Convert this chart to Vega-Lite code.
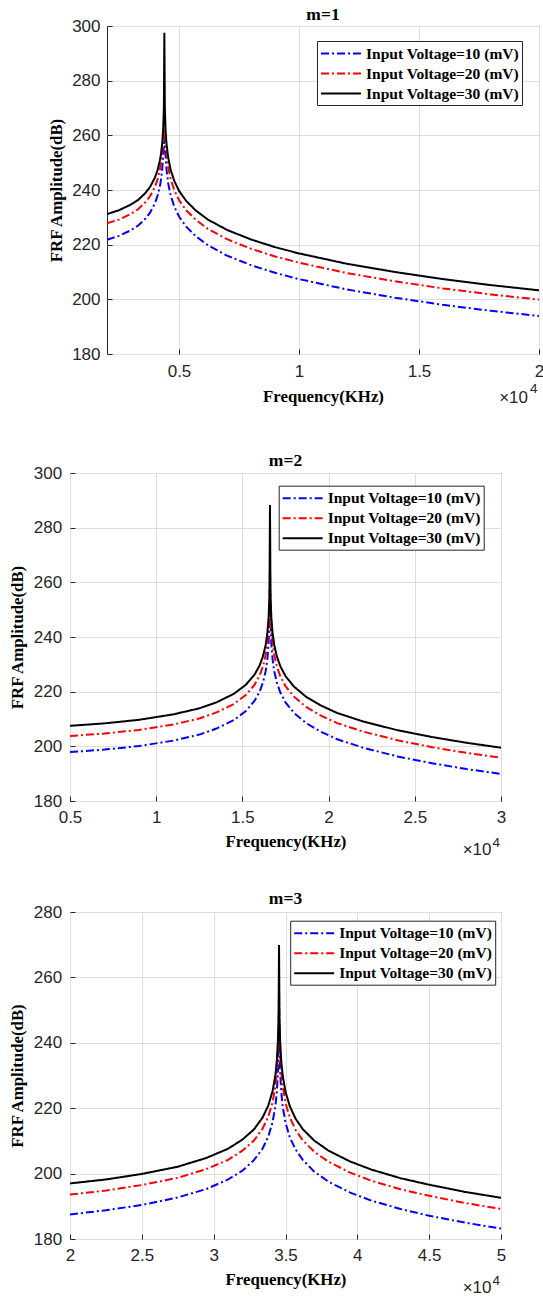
{
  "$schema": "https://vega.github.io/schema/vega-lite/v6.json",
  "background": "white",
  "padding": {"left": 9, "top": 5, "right": 0, "bottom": 0},
  "config": {
    "view": {"stroke": "#262626", "strokeWidth": 1},
    "font": "Liberation Sans",
    "axis": {
      "domain": false,
      "grid": true, "gridColor": "#dfdfdf", "gridWidth": 1,
      "ticks": true, "tickSize": -5, "tickColor": "#262626", "tickWidth": 1,
      "labelFont": "Liberation Sans", "labelFontSize": 17, "labelColor": "#262626",
      "labelFlush": false, "labelOverlap": false,
      "titleFont": "Liberation Serif", "titleFontWeight": "bold", "titleFontSize": 16.8, "titleColor": "#000000"
    },
    "legend": {
      "strokeColor": "#262626", "fillColor": "white", "padding": 3,
      "symbolType": "M-1,0H3.7", "symbolSize": 289, "symbolStrokeWidth": 2, "symbolFillColor": "transparent",
      "labelFont": "Liberation Serif", "labelFontWeight": "bold", "labelFontSize": 15.5,
      "labelColor": "#000000", "labelLimit": 400, "labelOffset": 27, "rowPadding": 2
    },
    "title": {"font": "Liberation Serif", "fontWeight": "bold", "fontSize": 17.5, "color": "#000000", "anchor": "middle", "frame": "group", "baseline": "alphabetic"}
  },
  "datasets": {
    "p1": [
      {"f":0.2,"v10":221.8,"v20":227.8,"v30":231.2},
      {"f":0.25,"v10":223.2,"v20":229.2,"v30":232.6},
      {"f":0.3,"v10":225.3,"v20":231.3,"v30":234.7},
      {"f":0.33,"v10":227.0,"v20":233.0,"v30":236.4},
      {"f":0.36,"v10":229.5,"v20":235.5,"v30":238.9},
      {"f":0.38,"v10":231.8,"v20":237.8,"v30":241.2},
      {"f":0.4,"v10":235.2,"v20":241.2,"v30":244.6},
      {"f":0.41,"v10":237.7,"v20":243.7,"v30":247.1},
      {"f":0.42,"v10":241.2,"v20":247.2,"v30":250.6},
      {"f":0.425,"v10":243.8,"v20":249.8,"v30":253.2},
      {"f":0.43,"v10":247.6,"v20":253.6,"v30":257.0},
      {"f":0.434,"v10":252.7,"v20":258.7,"v30":262.1},
      {"f":0.437,"v10":256.5,"v20":261.0,"v30":270.0},
      {"f":0.439,"v10":259.5,"v20":262.5,"v30":297.5},
      {"f":0.441,"v10":256.5,"v20":261.0,"v30":270.0},
      {"f":0.444,"v10":252.6,"v20":258.6,"v30":262.0},
      {"f":0.448,"v10":247.5,"v20":253.5,"v30":256.9},
      {"f":0.455,"v10":242.4,"v20":248.4,"v30":251.8},
      {"f":0.465,"v10":238.1,"v20":244.1,"v30":247.5},
      {"f":0.48,"v10":234.0,"v20":240.0,"v30":243.4},
      {"f":0.5,"v10":230.3,"v20":236.3,"v30":239.7},
      {"f":0.53,"v10":226.6,"v20":232.6,"v30":236.0},
      {"f":0.57,"v10":223.1,"v20":229.1,"v30":232.5},
      {"f":0.62,"v10":219.8,"v20":225.8,"v30":229.2},
      {"f":0.7,"v10":216.0,"v20":222.0,"v30":225.4},
      {"f":0.8,"v10":212.5,"v20":218.5,"v30":221.9},
      {"f":0.9,"v10":209.7,"v20":215.7,"v30":219.1},
      {"f":1.0,"v10":207.4,"v20":213.4,"v30":216.8},
      {"f":1.2,"v10":203.6,"v20":209.6,"v30":213.0},
      {"f":1.4,"v10":200.6,"v20":206.6,"v30":210.0},
      {"f":1.6,"v10":198.0,"v20":204.0,"v30":207.4},
      {"f":1.8,"v10":195.8,"v20":201.8,"v30":205.2},
      {"f":2.0,"v10":193.9,"v20":199.9,"v30":203.3}
    ],
    "p2": [
      {"f":0.5,"v10":197.9,"v20":203.8,"v30":207.5},
      {"f":0.7,"v10":198.8,"v20":204.7,"v30":208.4},
      {"f":0.9,"v10":200.1,"v20":206.0,"v30":209.7},
      {"f":1.1,"v10":202.1,"v20":208.0,"v30":211.7},
      {"f":1.25,"v10":204.3,"v20":210.2,"v30":213.9},
      {"f":1.35,"v10":206.5,"v20":212.4,"v30":216.1},
      {"f":1.45,"v10":209.6,"v20":215.5,"v30":219.2},
      {"f":1.52,"v10":212.9,"v20":218.8,"v30":222.5},
      {"f":1.57,"v10":216.6,"v20":222.5,"v30":226.2},
      {"f":1.6,"v10":220.0,"v20":225.9,"v30":229.6},
      {"f":1.62,"v10":223.5,"v20":229.4,"v30":233.1},
      {"f":1.635,"v10":227.5,"v20":233.4,"v30":237.1},
      {"f":1.645,"v10":232.0,"v20":237.9,"v30":241.6},
      {"f":1.652,"v10":237.4,"v20":243.3,"v30":247.0},
      {"f":1.657,"v10":245.9,"v20":251.8,"v30":255.5},
      {"f":1.66,"v10":250.0,"v20":265.0,"v30":288.3},
      {"f":1.663,"v10":245.9,"v20":251.8,"v30":255.5},
      {"f":1.668,"v10":237.3,"v20":243.2,"v30":246.9},
      {"f":1.675,"v10":231.9,"v20":237.8,"v30":241.5},
      {"f":1.685,"v10":227.4,"v20":233.3,"v30":237.0},
      {"f":1.7,"v10":223.3,"v20":229.2,"v30":232.9},
      {"f":1.72,"v10":219.7,"v20":225.6,"v30":229.3},
      {"f":1.75,"v10":216.1,"v20":222.0,"v30":225.7},
      {"f":1.8,"v10":212.2,"v20":218.1,"v30":221.8},
      {"f":1.87,"v10":208.5,"v20":214.4,"v30":218.1},
      {"f":1.95,"v10":205.5,"v20":211.4,"v30":215.1},
      {"f":2.05,"v10":202.6,"v20":208.5,"v30":212.2},
      {"f":2.2,"v10":199.5,"v20":205.4,"v30":209.1},
      {"f":2.4,"v10":196.3,"v20":202.2,"v30":205.9},
      {"f":2.6,"v10":193.8,"v20":199.7,"v30":203.4},
      {"f":2.8,"v10":191.7,"v20":197.6,"v30":201.3},
      {"f":3.0,"v10":189.9,"v20":195.8,"v30":199.5}
    ],
    "p3": [
      {"f":2.0,"v10":187.5,"v20":193.6,"v30":197.0},
      {"f":2.25,"v10":188.8,"v20":194.8,"v30":198.2},
      {"f":2.5,"v10":190.4,"v20":196.5,"v30":199.9},
      {"f":2.75,"v10":192.7,"v20":198.7,"v30":202.1},
      {"f":2.95,"v10":195.3,"v20":201.4,"v30":204.8},
      {"f":3.1,"v10":198.2,"v20":204.2,"v30":207.6},
      {"f":3.2,"v10":200.9,"v20":207.0,"v30":210.4},
      {"f":3.28,"v10":204.1,"v20":210.1,"v30":213.5},
      {"f":3.34,"v10":207.6,"v20":213.7,"v30":217.1},
      {"f":3.38,"v10":211.3,"v20":217.4,"v30":220.8},
      {"f":3.41,"v10":215.7,"v20":221.8,"v30":225.2},
      {"f":3.43,"v10":220.8,"v20":226.8,"v30":230.2},
      {"f":3.44,"v10":225.2,"v20":231.3,"v30":234.7},
      {"f":3.448,"v10":231.8,"v20":237.9,"v30":241.3},
      {"f":3.452,"v10":237.5,"v20":245.2,"v30":248.6},
      {"f":3.455,"v10":240.0,"v20":256.0,"v30":269.9},
      {"f":3.458,"v10":237.5,"v20":245.2,"v30":248.6},
      {"f":3.462,"v10":231.8,"v20":237.9,"v30":241.3},
      {"f":3.47,"v10":225.2,"v20":231.2,"v30":234.6},
      {"f":3.48,"v10":220.7,"v20":226.8,"v30":230.2},
      {"f":3.5,"v10":215.6,"v20":221.6,"v30":225.0},
      {"f":3.53,"v10":211.1,"v20":217.2,"v30":220.6},
      {"f":3.57,"v10":207.4,"v20":213.4,"v30":216.8},
      {"f":3.62,"v10":204.2,"v20":210.2,"v30":213.6},
      {"f":3.7,"v10":200.6,"v20":206.7,"v30":210.1},
      {"f":3.8,"v10":197.5,"v20":203.6,"v30":207.0},
      {"f":3.95,"v10":194.2,"v20":200.3,"v30":203.7},
      {"f":4.1,"v10":191.7,"v20":197.8,"v30":201.2},
      {"f":4.3,"v10":189.2,"v20":195.2,"v30":198.6},
      {"f":4.5,"v10":187.1,"v20":193.2,"v30":196.6},
      {"f":4.75,"v10":185.0,"v20":191.0,"v30":194.4},
      {"f":5.0,"v10":183.2,"v20":189.2,"v30":192.6}
    ]
  },
  "spacing": 44,
  "resolve": {"scale": {"color": "independent", "strokeDash": "independent"}},
  "vconcat": [
    {
      "spacing": -23,
      "resolve": {"scale": {"color": "independent", "strokeDash": "independent"}},
      "hconcat": [
        {"width": 1, "height": 1, "view": {"stroke": null}, "data": {"values": [{}]}, "mark": {"type": "point", "opacity": 0, "size": 1}},
        {
          "width": 432, "height": 328,
          "title": {"text": "m=1", "offset": -6},
          "data": {"name": "p1"},
          "transform": [{"fold": ["v10", "v20", "v30"], "as": ["series", "a"]}],
          "layer": [
            {
              "mark": {"type": "line", "strokeWidth": 2, "clip": true},
              "encoding": {
                "x": {"field": "f", "type": "quantitative", "scale": {"domain": [0.2, 2], "nice": false, "zero": false},
                      "axis": {"values": [0.5, 1, 1.5, 2], "format": "~g", "title": "Frequency(KHz)", "labelPadding": 14.2, "titlePadding": 9.5}},
                "y": {"field": "a", "type": "quantitative", "scale": {"domain": [180, 300], "nice": false, "zero": false},
                      "axis": {"values": [180, 200, 220, 240, 260, 280, 300], "title": "FRF Amplitude(dB)", "labelPadding": 12, "titlePadding": 6}},
                "color": {"field": "series", "type": "nominal", "scale": {"domain": ["v10", "v20", "v30"], "range": ["#0000ff", "#ff0000", "#000000"]},
                          "legend": {"title": null, "orient": "none", "legendX": 210, "legendY": 15, "labelExpr": "datum.value == 'v10' ? 'Input Voltage=10 (mV)' : datum.value == 'v20' ? 'Input Voltage=20 (mV)' : 'Input Voltage=30 (mV)'"}},
                "strokeDash": {"field": "series", "type": "nominal", "scale": {"domain": ["v10", "v20", "v30"], "range": [[8, 3, 2, 3], [8, 3, 2, 3], [1, 0]]},
                          "legend": {"title": null, "orient": "none", "legendX": 210, "legendY": 15, "labelExpr": "datum.value == 'v10' ? 'Input Voltage=10 (mV)' : datum.value == 'v20' ? 'Input Voltage=20 (mV)' : 'Input Voltage=30 (mV)'"}}
              }
            },
            {
              "data": {"values": [{}]},
              "mark": {"type": "text", "text": "×10", "align": "right", "baseline": "alphabetic", "dx": -11, "dy": 49, "fontSize": 17, "font": "Liberation Sans", "color": "#262626"},
              "encoding": {"x": {"datum": 2, "type": "quantitative"}, "y": {"datum": 180, "type": "quantitative"}}
            },
            {
              "data": {"values": [{}]},
              "mark": {"type": "text", "text": "4", "align": "right", "baseline": "alphabetic", "dx": -1.5, "dy": 39, "fontSize": 13.5, "font": "Liberation Sans", "color": "#262626"},
              "encoding": {"x": {"datum": 2, "type": "quantitative"}, "y": {"datum": 180, "type": "quantitative"}}
            }
          ]
        }
      ]
    },
    {
      "spacing": 30,
      "resolve": {"scale": {"color": "independent", "strokeDash": "independent"}},
      "vconcat": [
        {
          "width": 431, "height": 328,
          "title": {"text": "m=2", "offset": -5},
          "data": {"name": "p2"},
          "transform": [{"fold": ["v10", "v20", "v30"], "as": ["series", "a"]}],
          "layer": [
            {
              "mark": {"type": "line", "strokeWidth": 2, "clip": true},
              "encoding": {
                "x": {"field": "f", "type": "quantitative", "scale": {"domain": [0.5, 3], "nice": false, "zero": false},
                      "axis": {"values": [0.5, 1, 1.5, 2, 2.5, 3], "format": "~g", "title": "Frequency(KHz)", "labelPadding": 13.5, "titlePadding": 7.5}},
                "y": {"field": "a", "type": "quantitative", "scale": {"domain": [180, 300], "nice": false, "zero": false},
                      "axis": {"values": [180, 200, 220, 240, 260, 280, 300], "title": "FRF Amplitude(dB)", "labelPadding": 13.3, "titlePadding": 6.5}},
                "color": {"field": "series", "type": "nominal", "scale": {"domain": ["v10", "v20", "v30"], "range": ["#0000ff", "#ff0000", "#000000"]},
                          "legend": {"title": null, "orient": "none", "legendX": 208.7, "legendY": 12.7, "labelExpr": "datum.value == 'v10' ? 'Input Voltage=10 (mV)' : datum.value == 'v20' ? 'Input Voltage=20 (mV)' : 'Input Voltage=30 (mV)'"}},
                "strokeDash": {"field": "series", "type": "nominal", "scale": {"domain": ["v10", "v20", "v30"], "range": [[8, 3, 2, 3], [8, 3, 2, 3], [1, 0]]},
                          "legend": {"title": null, "orient": "none", "legendX": 208.7, "legendY": 12.7, "labelExpr": "datum.value == 'v10' ? 'Input Voltage=10 (mV)' : datum.value == 'v20' ? 'Input Voltage=20 (mV)' : 'Input Voltage=30 (mV)'"}}
              }
            },
            {
              "data": {"values": [{}]},
              "mark": {"type": "text", "text": "×10", "align": "right", "baseline": "alphabetic", "dx": -9.5, "dy": 54, "fontSize": 17, "font": "Liberation Sans", "color": "#262626"},
              "encoding": {"x": {"datum": 3, "type": "quantitative"}, "y": {"datum": 180, "type": "quantitative"}}
            },
            {
              "data": {"values": [{}]},
              "mark": {"type": "text", "text": "4", "align": "right", "baseline": "alphabetic", "dx": -1, "dy": 45.5, "fontSize": 13.5, "font": "Liberation Sans", "color": "#262626"},
              "encoding": {"x": {"datum": 3, "type": "quantitative"}, "y": {"datum": 180, "type": "quantitative"}}
            }
          ]
        },
        {
          "width": 431, "height": 327,
          "title": {"text": "m=3", "offset": -4},
          "data": {"name": "p3"},
          "transform": [{"fold": ["v10", "v20", "v30"], "as": ["series", "a"]}],
          "layer": [
            {
              "mark": {"type": "line", "strokeWidth": 2, "clip": true},
              "encoding": {
                "x": {"field": "f", "type": "quantitative", "scale": {"domain": [2, 5], "nice": false, "zero": false},
                      "axis": {"values": [2, 2.5, 3, 3.5, 4, 4.5, 5], "format": "~g", "title": "Frequency(KHz)", "labelPadding": 13.5, "titlePadding": 7.5}},
                "y": {"field": "a", "type": "quantitative", "scale": {"domain": [180, 280], "nice": false, "zero": false},
                      "axis": {"values": [180, 200, 220, 240, 260, 280], "title": "FRF Amplitude(dB)", "labelPadding": 13.3, "titlePadding": 6.5}},
                "color": {"field": "series", "type": "nominal", "scale": {"domain": ["v10", "v20", "v30"], "range": ["#0000ff", "#ff0000", "#000000"]},
                          "legend": {"title": null, "orient": "none", "legendX": 220.2, "legendY": 8.7, "labelExpr": "datum.value == 'v10' ? 'Input Voltage=10 (mV)' : datum.value == 'v20' ? 'Input Voltage=20 (mV)' : 'Input Voltage=30 (mV)'"}},
                "strokeDash": {"field": "series", "type": "nominal", "scale": {"domain": ["v10", "v20", "v30"], "range": [[8, 3, 2, 3], [8, 3, 2, 3], [1, 0]]},
                          "legend": {"title": null, "orient": "none", "legendX": 220.2, "legendY": 8.7, "labelExpr": "datum.value == 'v10' ? 'Input Voltage=10 (mV)' : datum.value == 'v20' ? 'Input Voltage=20 (mV)' : 'Input Voltage=30 (mV)'"}}
              }
            },
            {
              "data": {"values": [{}]},
              "mark": {"type": "text", "text": "×10", "align": "right", "baseline": "alphabetic", "dx": -9.5, "dy": 54, "fontSize": 17, "font": "Liberation Sans", "color": "#262626"},
              "encoding": {"x": {"datum": 5, "type": "quantitative"}, "y": {"datum": 180, "type": "quantitative"}}
            },
            {
              "data": {"values": [{}]},
              "mark": {"type": "text", "text": "4", "align": "right", "baseline": "alphabetic", "dx": -1, "dy": 45.5, "fontSize": 13.5, "font": "Liberation Sans", "color": "#262626"},
              "encoding": {"x": {"datum": 5, "type": "quantitative"}, "y": {"datum": 180, "type": "quantitative"}}
            }
          ]
        }
      ]
    }
  ]
}
